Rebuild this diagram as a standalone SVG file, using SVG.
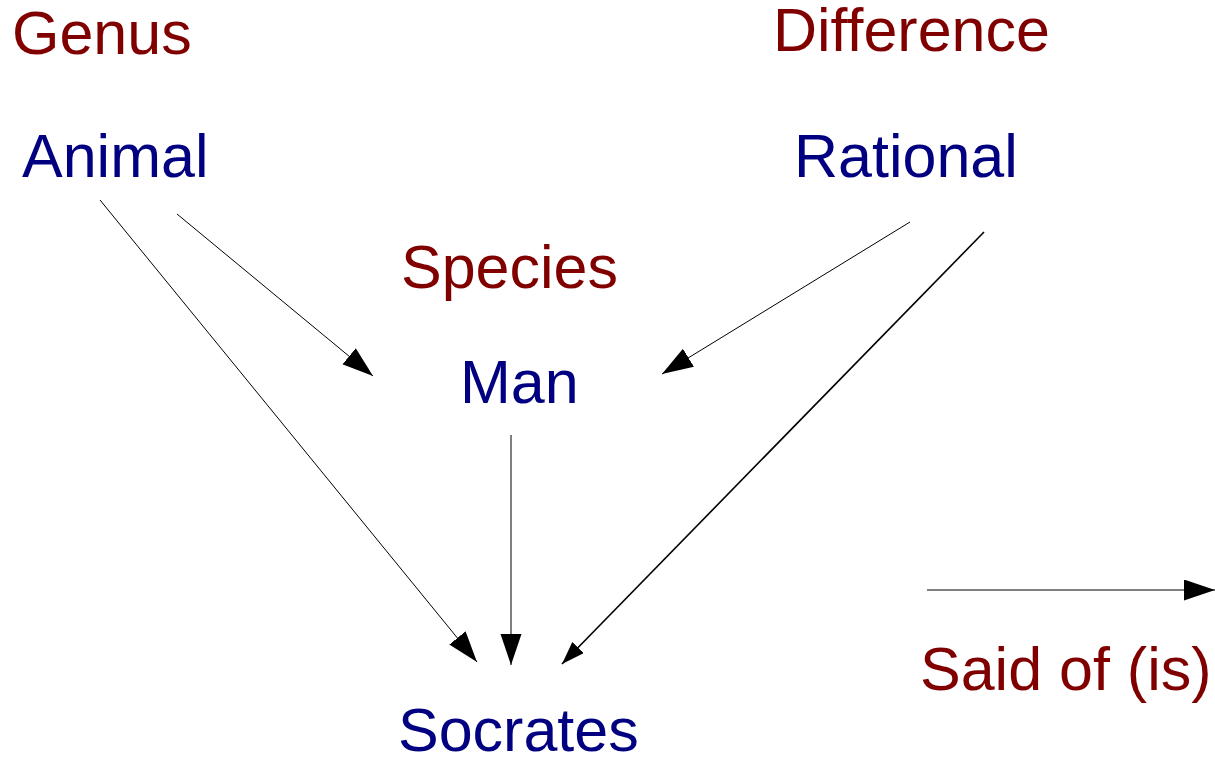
<svg xmlns="http://www.w3.org/2000/svg" width="1215" height="758" viewBox="0 0 1215 758">
<style>
.cat{font-family:"Liberation Sans",Arial,sans-serif;font-size:61px;fill:#800000}
.term{font-family:"Liberation Sans",Arial,sans-serif;font-size:61px;fill:#000080}
.ln{stroke:#000;stroke-width:1;fill:none;marker-end:url(#ah)}
</style>
<defs>
<marker id="ah" markerUnits="userSpaceOnUse" markerWidth="32" markerHeight="22" refX="31" refY="10.5" orient="auto" viewBox="0 0 32 22">
<path d="M0,0 L31,10.5 L0,21 z" fill="#000"/>
</marker>
<marker id="ahs" markerUnits="userSpaceOnUse" markerWidth="24" markerHeight="18" refX="23" refY="8" orient="auto" viewBox="0 0 24 18">
<path d="M0,0 L23,8 L0,16 z" fill="#000"/>
</marker>
</defs>
<g id="genus-label"><text class="cat" x="12" y="54">Genus</text></g>
<g id="difference-label"><text class="cat" x="773" y="51">Difference</text></g>
<g id="species-label"><text class="cat" x="401" y="288">Species</text></g>
<g id="animal"><text class="term" x="22" y="177">Animal</text></g>
<g id="rational"><text class="term" x="794" y="177">Rational</text></g>
<g id="man"><text class="term" x="460" y="403">Man</text></g>
<g id="socrates"><text class="term" x="398" y="751">Socrates</text></g>
<g id="legend"><text class="cat" x="920" y="690">Said of (is)</text></g>
<g id="connectors">
<line class="ln" x1="100" y1="200" x2="477" y2="662"/>
<line class="ln" x1="177" y1="214" x2="373" y2="376"/>
<line class="ln" x1="910" y1="222" x2="662" y2="374"/>
<line class="ln" x1="511" y1="435" x2="511" y2="665"/>
<line x1="984" y1="232" x2="562" y2="664" stroke="#000" stroke-width="1.6" marker-end="url(#ahs)"/>
<line class="ln" x1="927" y1="590" x2="1215" y2="590"/>
</g>
</svg>
